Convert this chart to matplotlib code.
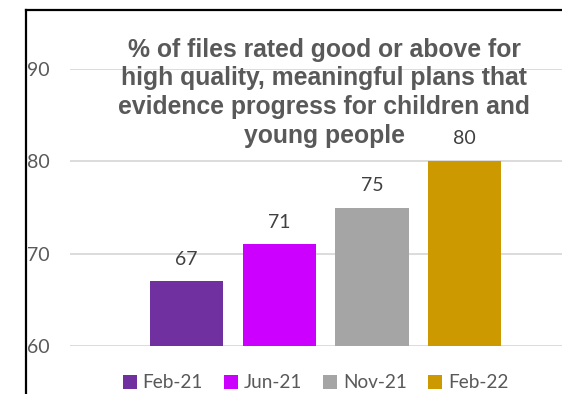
import matplotlib
matplotlib.use("Agg")
import matplotlib.pyplot as plt
from matplotlib.lines import Line2D
from matplotlib.patches import Patch

# Data
periods = ["Feb-21", "Jun-21", "Nov-21", "Feb-22"]
values = [67, 71, 75, 80]
colors = ["#7030A0", "#CC00FF", "#A5A5A5", "#CC9900"]
yticks = [60, 70, 80, 90]
title_lines = ["% of files rated good or above for",
               "high quality, meaningful plans that",
               "evidence progress for children and",
               "young people"]

W, H = 562, 394
fig = plt.figure(figsize=(W / 100, H / 100), dpi=100)
fig.patch.set_facecolor("white")

# Plot area in pixel terms
left_px, right_px, top_px, bottom_px = 70, 581, 69, 346
ax = fig.add_axes([left_px / W, 1 - bottom_px / H,
                   (right_px - left_px) / W, (bottom_px - top_px) / H])
ax.set_facecolor("none")

x = list(range(len(periods)))
ax.bar(x, [v - 60 for v in values], bottom=60, width=0.79, color=colors, zorder=3)
for xi, v in zip(x, values):
    ax.text(xi, v + 1.5, str(v), ha="center", va="bottom", fontsize=14,
            color="#404040", family="Lato", clip_on=False, zorder=4)

ax.set_ylim(60, 90)
ax.set_xlim(-1.257, 4.256)
ax.set_yticks(yticks)
ax.set_yticklabels([str(t) for t in yticks], family="Lato", fontsize=14, color="#595959")
ax.tick_params(axis="y", length=0, pad=14.4)
ax.set_xticks([])
for s in ax.spines.values():
    s.set_visible(False)
ax.grid(axis="y", color="#D9D9D9", linewidth=1.3, zorder=0)
ax.set_axisbelow(True)

# Title, one centred line at a time
baselines = [57, 85.5, 114, 142.5]
for line, yb in zip(title_lines, baselines):
    fig.text(324 / W, 1 - yb / H, line, ha="center", va="baseline", fontsize=17.8,
             fontweight="bold", color="#595959", family="Liberation Sans")

# Legend
handles = [Patch(facecolor=c, edgecolor="none") for c in colors]
fig.legend(handles, periods, loc="center", bbox_to_anchor=(315.5 / W, 1 - 383 / H),
           ncol=4, frameon=False, prop={"family": "Lato", "size": 13.7},
           labelcolor="#595959", handlelength=0.75, handleheight=0.75,
           handletextpad=0.3, columnspacing=1.1)

# Chart border
bx, by = 25.7 / W, 1 - 10.3 / H
fig.add_artist(Line2D([bx, bx], [0, by], transform=fig.transFigure,
                      color="black", linewidth=1.6))
fig.add_artist(Line2D([bx, 1], [by, by], transform=fig.transFigure,
                      color="black", linewidth=1.6))

fig.savefig("out.png", dpi=100)
